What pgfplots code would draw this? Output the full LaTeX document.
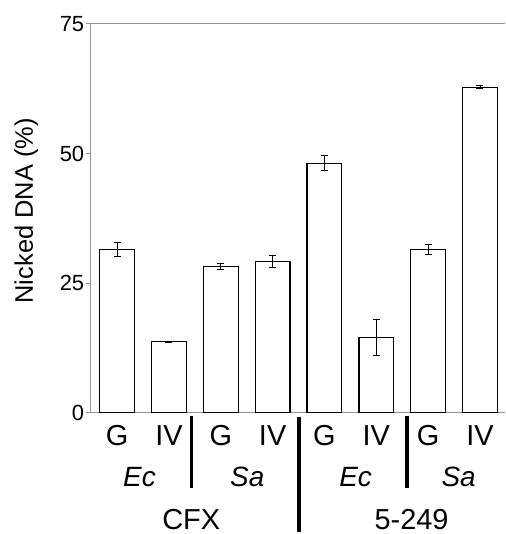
\documentclass[border=0pt]{standalone}
\usepackage{fontspec}
\setmainfont{Liberation Sans}
\usepackage{pgfplots}
\pgfplotsset{compat=1.18}
\begin{document}
\begin{tikzpicture}
\begin{axis}[scale only axis,width=416pt,height=390pt,
xmin=-0.51,xmax=7.49,ymin=0,ymax=75,ybar,bar width=0.67,
axis y line*=left,axis x line*=box,
axis line style={draw=gray!85,line width=1pt},
ytick={0,25,50,75},xtick=\empty,
tick align=outside,major tick length=5pt,
y tick style={gray!85,line width=1pt},
yticklabel style={font=\fontsize{22}{22}\selectfont,xshift=2pt},
/pgf/number format/assume math mode=true,
clip=false]
\addplot[fill=white,draw=black,line width=1.2pt,
error bars/.cd,y dir=both,y explicit,
error bar style={line width=0.9pt,black},
error mark options={black,line width=0.9pt,mark size=3.5pt,rotate=90}]
table[x=x,y=y,y error=e] {
x y e
0 31.5 1.3
1 13.7 0.1
2 28.2 0.6
3 29.2 1.2
4 48.1 1.45
5 14.5 3.5
6 31.5 0.9
7 62.8 0.3
};
% group labels
\node[anchor=base,font=\fontsize{29}{29}\selectfont] at ([yshift=-33pt]axis cs:0,0) {G};
\node[anchor=base,font=\fontsize{29}{29}\selectfont] at ([yshift=-33pt]axis cs:1,0) {IV};
\node[anchor=base,font=\fontsize{29}{29}\selectfont] at ([yshift=-33pt]axis cs:2,0) {G};
\node[anchor=base,font=\fontsize{29}{29}\selectfont] at ([yshift=-33pt]axis cs:3,0) {IV};
\node[anchor=base,font=\fontsize{29}{29}\selectfont] at ([yshift=-33pt]axis cs:4,0) {G};
\node[anchor=base,font=\fontsize{29}{29}\selectfont] at ([yshift=-33pt]axis cs:5,0) {IV};
\node[anchor=base,font=\fontsize{29}{29}\selectfont] at ([yshift=-33pt]axis cs:6,0) {G};
\node[anchor=base,font=\fontsize{29}{29}\selectfont] at ([yshift=-33pt]axis cs:7,0) {IV};
\node[anchor=base,font=\fontsize{28}{28}\selectfont\itshape] at ([yshift=-74pt]axis cs:0.43,0) {Ec};
\node[anchor=base,font=\fontsize{28}{28}\selectfont\itshape] at ([yshift=-74pt]axis cs:2.51,0) {Sa};
\node[anchor=base,font=\fontsize{28}{28}\selectfont\itshape] at ([yshift=-74pt]axis cs:4.6,0) {Ec};
\node[anchor=base,font=\fontsize{28}{28}\selectfont\itshape] at ([yshift=-74pt]axis cs:6.59,0) {Sa};
\node[anchor=base,font=\fontsize{29}{29}\selectfont] at ([yshift=-117pt]axis cs:1.43,0) {CFX};
\node[anchor=base,font=\fontsize{29}{29}\selectfont] at ([yshift=-117pt]axis cs:5.68,0) {5-249};
% separators
\draw[line width=3.5pt] ([yshift=-3pt]axis cs:1.43,0) -- ([yshift=-76pt]axis cs:1.43,0);
\draw[line width=3.5pt] ([yshift=-4pt]axis cs:3.505,0) -- ([yshift=-120pt]axis cs:3.505,0);
\draw[line width=3.5pt] ([yshift=-3pt]axis cs:5.59,0) -- ([yshift=-76pt]axis cs:5.59,0);
% y label
\node[rotate=90,anchor=base,font=\fontsize{25.5}{25.5}\selectfont] at ([xshift=-58pt]rel axis cs:0,0.519) {Nicked DNA (\%)};
\path ([xshift=-91pt,yshift=-120pt]rel axis cs:0,0) rectangle ([yshift=24pt]rel axis cs:1,1);
\end{axis}
\end{tikzpicture}
\end{document}
